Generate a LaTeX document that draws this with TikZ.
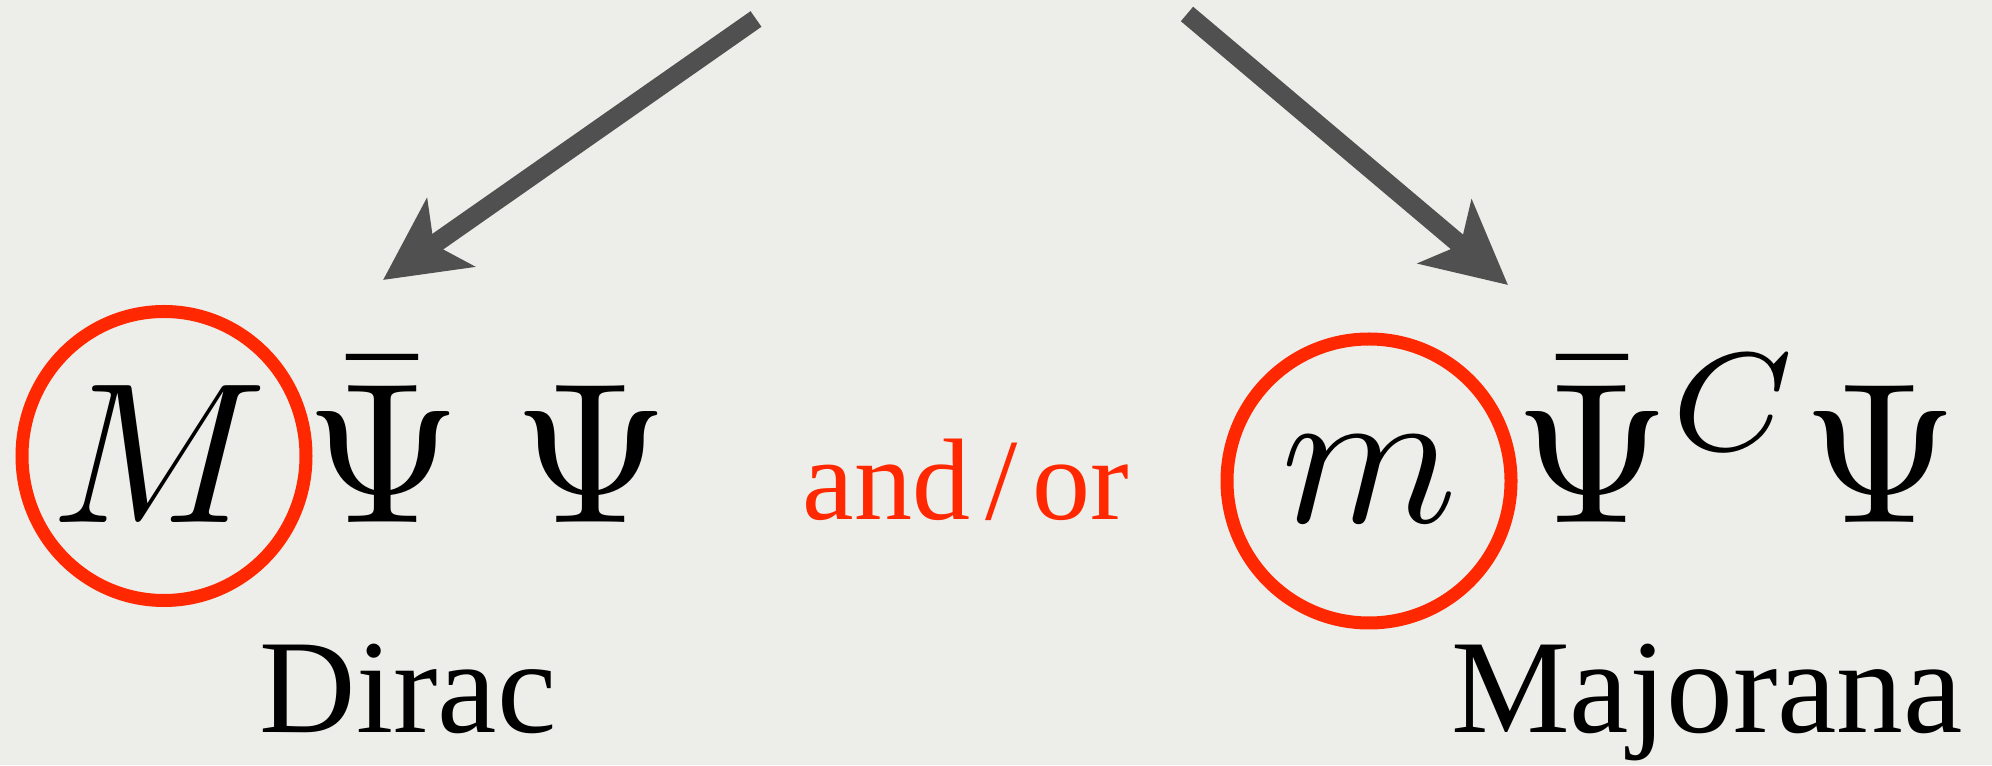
\documentclass[tikz,border=0pt]{standalone}
\usepackage[no-math]{fontspec}
\setmainfont{Liberation Serif}
\usetikzlibrary{positioning,arrows.meta}
\definecolor{slideBg}{HTML}{EDEDE9}
\definecolor{slideArrow}{HTML}{505050}
\definecolor{slideRed}{HTML}{FF2800}
\tikzset{
  term/.style={inner sep=0pt, anchor=base},
  ring/.style={draw=slideRed, line width=0.13cm},
  kind/.style={inner sep=0pt, anchor=base, font=\fontsize{38}{42}\selectfont},
  joiner/.style={inner sep=0pt, anchor=base, text=slideRed,
    font=\fontsize{33}{36}\selectfont},
  bigarrow/.style={draw=slideArrow, line width=0.19cm,
    -{Stealth[length=0.82cm, width=0.82cm, inset=0.2cm]}},
}
\newcommand{\bigsym}[1]{\scalebox{5.7}{$#1$}}

\begin{document}
\begin{tikzpicture}

\fill[slideBg] (0,0) rectangle (19.92,7.65);
\useasboundingbox (0,0) rectangle (19.92,7.65);

\coordinate (fromL) at (7.56,7.46);
\coordinate (toL) at (3.83,4.85);
\coordinate (fromR) at (11.87,7.51);
\coordinate (toR) at (15.08,4.80);
\draw[bigarrow] (fromL) -- (toL);
\draw[bigarrow] (fromR) -- (toR);

\node[term] (M) at (1.60,2.42) {\bigsym{M}};
\draw[ring] (1.64,3.09) circle[x radius=1.42cm, y radius=1.445cm];
\node[term] (psibarL) at (3.83,2.42) {\bigsym{\bar{\Psi}}};
\node[term] (psiL) at (5.91,2.42) {\bigsym{\Psi}};
\node[kind] (dirac) at (4.08,0.32) {Dirac};

\node[joiner] (andor) at (9.66,2.45) {and\hspace{0.15cm}/\hspace{0.15cm}or};

\node[term] (m) at (13.69,2.42) {\bigsym{m}};
\draw[ring] (13.69,2.84) circle[radius=1.42cm];
\node[term, anchor=base west] (psibarR) at (15.14,2.42) {\bigsym{\bar{\Psi}^C}};
\node[term] (psiR) at (18.80,2.42) {\bigsym{\Psi}};
\node[kind] (majorana) at (17.07,0.32) {Majorana};

\end{tikzpicture}
\end{document}
